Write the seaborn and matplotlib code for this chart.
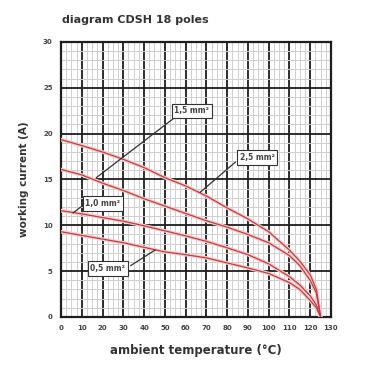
import numpy as np
import matplotlib
matplotlib.use("Agg")
import matplotlib.pyplot as plt
import pandas as pd
import seaborn as sns

# ambient temperature (°C) sample points
temps = [0, 10, 20, 30, 40, 50, 60, 70, 80, 90, 100, 110, 115, 120, 123, 125]

# working current (A) for each cross-section
cur_25 = [19.35, 18.7, 18.0, 17.2, 16.3, 15.2, 14.3, 13.2, 11.9, 10.7, 9.3, 7.3, 6.1, 4.6, 3.0, 0.0]
cur_15 = [16.1, 15.5, 14.6, 13.8, 12.9, 12.1, 11.3, 10.5, 9.8, 9.0, 8.1, 6.7, 5.6, 4.0, 2.6, 0.0]
cur_10 = [11.6, 11.25, 10.85, 10.45, 9.95, 9.4, 8.85, 8.25, 7.55, 6.8, 5.8, 4.4, 3.5, 2.3, 1.3, 0.0]
cur_05 = [9.3, 8.9, 8.5, 8.1, 7.6, 7.1, 6.8, 6.45, 5.9, 5.35, 4.75, 3.75, 3.0, 1.8, 1.0, 0.0]

series_names = ["2,5 mm²", "1,5 mm²", "1,0 mm²", "0,5 mm²"]

# label text, box centre, leader start (on curve), leader end (at box)
labels = {
    "1,5 mm²": ((63, 22.5), (17, 15.2), (55.0, 21.8)),
    "2,5 mm²": ((94.5, 17.4), (67, 13.6), (84, 16.9)),
    "1,0 mm²": ((20.2, 12.4), (5.8, 11.35), (9.5, 12.0)),
    "0,5 mm²": ((22.6, 5.3), (45.3, 7.3), (33.5, 5.6)),
}

df = pd.DataFrame({
    "temp": temps * 4,
    "current": cur_25 + cur_15 + cur_10 + cur_05,
    "section": np.repeat(series_names, len(temps)),
})

sns.set_style("white")
plt.rcParams["font.family"] = ["DejaVu Sans"]

fig = plt.figure(figsize=(3.8, 3.8), dpi=100)
ax = fig.add_axes([0.1605, 0.1658, 0.871 - 0.1605, 0.8895 - 0.1658])

# light halo under each curve, then the red line itself
sns.lineplot(data=df, x="temp", y="current", units="section", estimator=None,
             color="#f6cccc", linewidth=2.6, ax=ax, zorder=3)
sns.lineplot(data=df, x="temp", y="current", units="section", estimator=None,
             color="#c43c40", linewidth=0.9, ax=ax, zorder=4)

ax.set_xlim(0, 130)
ax.set_ylim(0, 30)
ax.set_xticks(np.arange(0, 131, 10))
ax.set_yticks(np.arange(0, 31, 5))
ax.set_xticks(np.arange(0, 131, 2.5), minor=True)
ax.set_yticks(np.arange(0, 31, 1), minor=True)
ax.grid(which="minor", color="#cfcfcf", linewidth=0.7, zorder=1)
ax.grid(which="major", color="#1e1e1e", linewidth=1.3, zorder=2)
ax.set_axisbelow(True)
for s in ax.spines.values():
    s.set_linewidth(1.6)
    s.set_color("#1e1e1e")

ax.tick_params(which="major", direction="out", length=3, width=1, color="#333333",
               labelsize=5, labelcolor="#444444", pad=3)
ax.tick_params(which="minor", length=0)
for t in ax.get_xticklabels() + ax.get_yticklabels():
    t.set_fontweight("bold")

ax.set_xlabel("ambient temperature (°C)", fontsize=8.5, fontweight="bold",
              color="#333333", labelpad=9)
ax.set_ylabel("working current (A)", fontsize=7.5, fontweight="bold",
              color="#333333", labelpad=10)

for text, (centre, start, end) in labels.items():
    ax.plot([start[0], end[0]], [start[1], end[1]], color="#333333", linewidth=0.9, zorder=5)
    ax.text(centre[0], centre[1], text, ha="center", va="center", fontsize=5.5,
            fontweight="bold", color="#444444", zorder=6,
            bbox=dict(boxstyle="square,pad=0.35", fc="white", ec="#333333", lw=0.8))

fig.text(62 / 380, 1 - 20 / 380, "diagram CDSH 18 poles", fontsize=8,
         fontweight="bold", color="#333333", ha="left", va="center")

fig.savefig("out.png", dpi=100)
